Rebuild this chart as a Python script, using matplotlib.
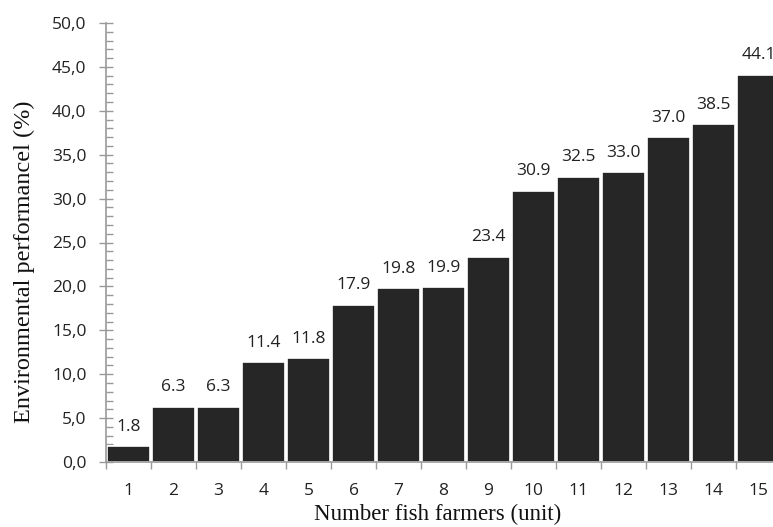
import matplotlib
matplotlib.use("Agg")
import matplotlib.pyplot as plt
from matplotlib.ticker import MultipleLocator, FuncFormatter
import numpy as np

categories = [str(i) for i in range(1, 16)]
values = [1.8, 6.3, 6.3, 11.4, 11.8, 17.9, 19.8, 19.9, 23.4, 30.9, 32.5, 33.0, 37.0, 38.5, 44.1]
ylabel = "Environmental performancel (%)"
xlabel = "Number fish farmers (unit)"

fig = plt.figure(figsize=(7.73, 5.27), dpi=100)
ax = fig.add_axes([106/773, 65/527, 675/773, 439/527])

x = np.arange(len(categories))
bars = ax.bar(x, values, width=0.97, color="#262626", edgecolor="white", linewidth=1.2, zorder=2)

tick_font = "Open Sans"
fs = 12.5
for xi, v in zip(x, values):
    ax.text(xi, v + 1.75, f"{v:.1f}", ha="center", va="baseline", fontsize=fs,
            family=tick_font, color="#222222")

ax.set_xlim(-0.5, len(categories) - 0.5)
ax.set_ylim(0, 50)
ax.yaxis.set_major_locator(MultipleLocator(5))
ax.yaxis.set_minor_locator(MultipleLocator(1))
ax.yaxis.set_major_formatter(FuncFormatter(lambda v, p: f"{v:.1f}".replace(".", ",")))

ax.set_xticks(x)
ax.set_xticklabels(categories)
ax.set_xticks(np.arange(-0.5, len(categories) + 0.5, 1), minor=True)
ax.tick_params(axis="x", which="major", length=0, pad=15, labelsize=fs, labelcolor="#222222")
ax.tick_params(axis="x", which="minor", length=5, direction="out", color="#999999", width=1)
ax.tick_params(axis="y", which="major", length=10, direction="inout", color="#999999", width=1,
               pad=9, labelsize=fs, labelcolor="#222222")
ax.tick_params(axis="y", which="minor", length=5, direction="in", color="#999999", width=1)
for lab in ax.get_xticklabels() + ax.get_yticklabels():
    lab.set_family(tick_font)

for s in ["top", "right"]:
    ax.spines[s].set_visible(False)
for s in ["left", "bottom"]:
    ax.spines[s].set_color("#999999")
    ax.spines[s].set_linewidth(1.2)

ax.set_xlabel(xlabel, family="Liberation Serif", fontsize=16.5, color="#111111", va="center")
ax.set_ylabel(ylabel, family="Liberation Serif", fontsize=17.5, color="#111111", va="center")
ax.xaxis.set_label_coords((438 - 106) / 675, -(514 - 462) / 439)
ax.yaxis.set_label_coords(-(106 - 24) / 675, (462 - 262) / 439)

fig.savefig("out.png", dpi=100)
